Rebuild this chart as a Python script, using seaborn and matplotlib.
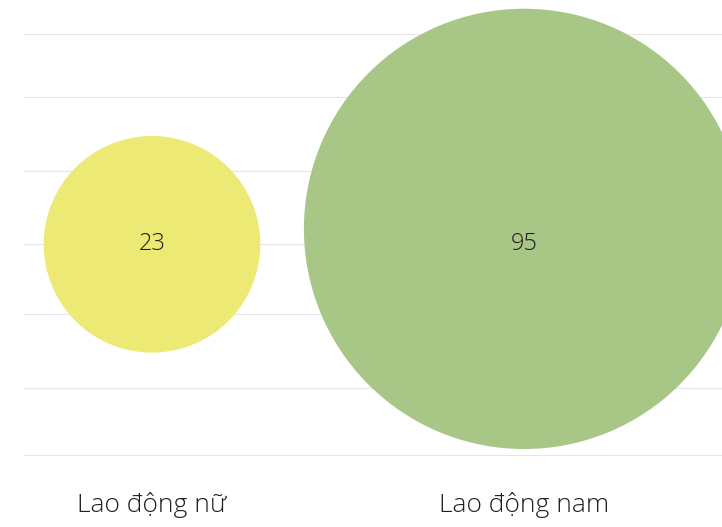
# plot.py - bubble chart, Lao động nữ vs Lao động nam

import pandas as pd
import matplotlib
matplotlib.use('Agg')
import matplotlib.pyplot as plt
import seaborn as sns

# Data
categories = ['Lao động nữ', 'Lao động nam']
values = [23, 95]
bubble_level = [3.0, 3.22]     # vertical position of bubble centres
label_level = [3.0, 3.0]       # vertical position of value labels
grid_levels = [0, 0.95, 2.0, 3.0, 4.05, 5.1, 6.0]
colors = ['#ECEA75', '#A8C686']

df = pd.DataFrame({'cat': categories, 'value': values, 'y': bubble_level})

sns.set_theme(style='white')
plt.rcParams['font.family'] = ['Open Sans', 'DejaVu Sans']

fig = plt.figure(figsize=(7.22, 5.27), dpi=100)
ax = fig.add_axes([24 / 722, 71 / 527, 698 / 722, 422 / 527])

# Bubble area proportional to value
max_size = 100500
sns.scatterplot(data=df, x='cat', y='y', hue='cat', size='value',
                palette=dict(zip(categories, colors)),
                sizes=(0, max_size), size_norm=(0, 95),
                linewidth=0, alpha=1, legend=False, ax=ax, zorder=3)
for c in ax.collections:
    c.set_clip_on(False)

for i, (v, ly) in enumerate(zip(values, label_level)):
    ax.text(i, ly, str(v), ha='center', va='center', fontsize=17,
            color='#1f1f1f', fontweight='light', zorder=4)

ax.set_xlim(-0.344, 1.532)
ax.set_ylim(-0.02, 6)
ax.set_yticks(grid_levels)
ax.set_yticklabels([])
ax.set_xticks(range(len(categories)))
ax.set_xticklabels(categories, fontsize=19, color='#1f1f1f', fontweight='light')
ax.tick_params(axis='both', length=0)
ax.tick_params(axis='x', pad=26)
ax.set_xlabel('')
ax.set_ylabel('')
ax.grid(axis='y', color='#E6E6E6', linewidth=0.8)
ax.grid(axis='x', visible=False)
ax.set_axisbelow(True)
sns.despine(ax=ax, left=True, bottom=True)

fig.savefig('out.png', dpi=100)
